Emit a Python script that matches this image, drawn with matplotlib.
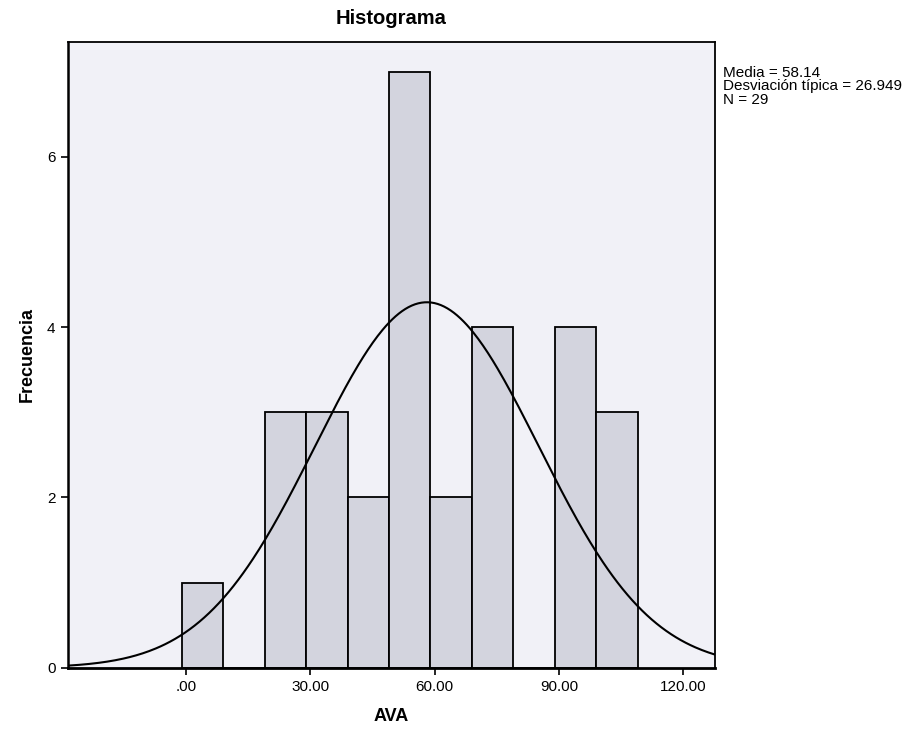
import numpy as np
import matplotlib.pyplot as plt

plt.rcParams['font.family'] = ['Liberation Sans', 'DejaVu Sans']

# histogram of AVA (SPSS output)
bin_edges = [-1, 9, 19, 29, 39, 49, 59, 69, 79, 89, 99, 109]
counts = [1, 0, 3, 3, 2, 7, 2, 4, 0, 4, 3]
media = 58.14
desv = 26.949
n = 29
x_ticks = [0, 30, 60, 90, 120]
x_labels = [".00", "30.00", "60.00", "90.00", "120.00"]
y_ticks = [0, 2, 4, 6]

fig = plt.figure(figsize=(9.2, 7.37), dpi=100)
ax = fig.add_axes([0.074, 0.094, 0.703, 0.849])
ax.set_facecolor("#f1f1f7")

lefts = np.array(bin_edges[:-1])
widths = np.diff(bin_edges)
ax.bar(lefts, counts, width=widths, align="edge", color="#d3d4de",
       edgecolor="black", linewidth=1.3)

# normal curve scaled to counts
xs = np.linspace(-28.4, 127.6, 400)
bw = widths[0]
ys = n * bw / (desv * np.sqrt(2 * np.pi)) * np.exp(-0.5 * ((xs - media) / desv) ** 2)
ax.plot(xs, ys, color="black", linewidth=1.5)

ax.set_xlim(-28.4, 127.6)
ax.set_ylim(0, 7.35)
ax.set_xticks(x_ticks)
ax.set_xticklabels(x_labels)
ax.set_yticks(y_ticks)
ax.tick_params(direction="out", length=5, width=1.2, labelsize=11, pad=4)

for s in ax.spines.values():
    s.set_linewidth(1.3)
ax.spines["bottom"].set_linewidth(2)
ax.spines["left"].set_linewidth(1.8)

ax.set_title("Histograma", fontsize=14.5, fontweight="bold", pad=13)
ax.set_xlabel("AVA", fontsize=13, fontweight="bold", labelpad=10)
ax.set_ylabel("Frecuencia", fontsize=13, fontweight="bold", labelpad=8)

fig.text(0.786, 0.91,
         "Media = %.2f\nDesviación típica = %.3f\nN = %d" % (media, desv, n),
         fontsize=11, va="top", ha="left", linespacing=0.92)

fig.savefig("out.png", dpi=100)
